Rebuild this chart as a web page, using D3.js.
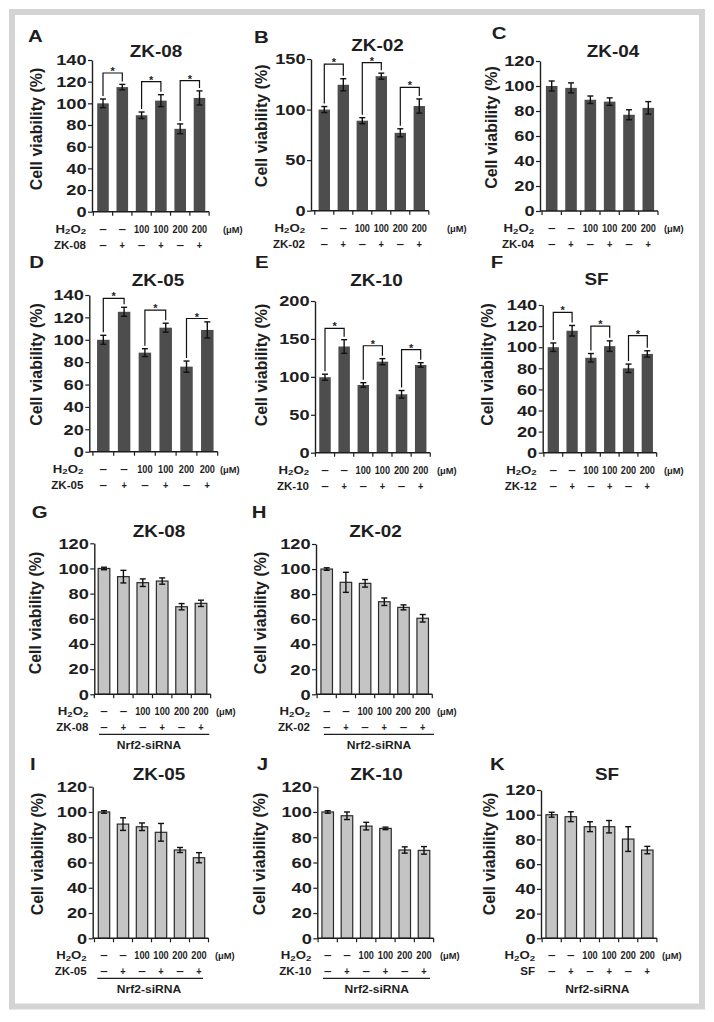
<!DOCTYPE html>
<html><head><meta charset="utf-8">
<script src="https://cdn.jsdelivr.net/npm/d3@7"></script>
<style>
body{margin:0;background:#fff}
svg{display:block}
text{font-family:"Liberation Sans",Arial,Helvetica,sans-serif;font-weight:bold;fill:#1e1e1e}
</style>
</head><body>
<svg id="c" width="714" height="1022"></svg>
<script>
// ---------- data ----------
const h2o2Labels = ["–","–","100","100","200","200"];
const drugSigns  = ["–","+","–","+","–","+"];
const panelLetters = ["A","B","C","D","E","F","G","H","I","J","K"];
const panelTitles  = ["ZK-08","ZK-02","ZK-04","ZK-05","ZK-10","SF","ZK-08","ZK-02","ZK-05","ZK-10","SF"];
const drugNames    = ["ZK-08","ZK-02","ZK-04","ZK-05","ZK-10","ZK-12","ZK-08","ZK-02","ZK-05","ZK-10","SF"];
const yMaxes = [140,150,120,140,200,140,120,120,120,120,120];
const ySteps = [20,50,20,20,50,20,20,20,20,20,20];

const meansA = [100,115,89,102.5,76.5,105];   const errA = [4,2.5,3,5.5,4.5,6.5];
const meansB = [100,124.5,89,133,77,103.5];   const errB = [3,6,3,3,4,7];
const meansC = [100,98.5,89,87.5,77,82.5];    const errC = [4,4,3,3,4,5];
const meansD = [100,125,88.5,110.8,76,108.8]; const errD = [4,4,3.5,4,5,7.2];
const meansE = [99.5,140,89.3,120,77,115.7];  const errE = [4,9,3,4,5,3];
const meansF = [100,115.6,90,101,80,93.6];    const errF = [4,5,4,5,4,3];
const meansG = [100,93.5,88.7,90,69.6,72.3];  const errG = [1,5,3,2.5,2.5,2.5];
const meansH = [100,89.4,88.6,73.9,69.4,60.7];const errH = [1,8,3,3,2,3];
const meansI = [100,90.4,88.3,83.9,69.9,63.8];const errI = [1,5,3,7,2,4];
const meansJ = [100,97,88.8,87,69.9,69.6];    const errJ = [1,3,3,1,2.5,3];
const meansK = [100,98.4,90.3,90.3,80.3,71.4];const errK = [2,4,4,5,10,3];

// significance brackets: [barFrom, barTo, bracketLevel]
const sigA = [[0,1,128],[2,3,120],[4,5,121]];
const sigB = [[0,1,145],[2,3,146.5],[4,5,122]];
const sigD = [[0,1,137],[2,3,126.5],[4,5,119]];
const sigE = [[0,1,164],[2,3,141],[4,5,136]];
const sigF = [[0,1,133],[2,3,120],[4,5,111]];

const allMeans = [meansA,meansB,meansC,meansD,meansE,meansF,meansG,meansH,meansI,meansJ,meansK];
const allErrs  = [errA,errB,errC,errD,errE,errF,errG,errH,errI,errJ,errK];
const allSigs  = [sigA,sigB,[],sigD,sigE,sigF,[],[],[],[],[]];
const siRNA    = [false,false,false,false,false,false,true,true,true,true,true];

// ---------- layout ----------
const layout = [
 {ax:92,   yT:60,    yB:211.7, c1:103,   c6:199.5, lx:28,    ly:41.7,  tx:156,   ty:57,    vx:41.6,  vy:129,   um:223},
 {ax:311,  yT:59,    yB:210.7, c1:324.3, c6:419.3, lx:254,   ly:42.7,  tx:377.5, ty:51,    vx:266.6, vy:125.8, um:447},
 {ax:540,  yT:61,    yB:211,   c1:551.7, c6:648.3, lx:491.7, ly:39.3,  tx:613,   ty:57.3,  vx:496.6, vy:127.5, um:664},
 {ax:89.3, yT:295,   yB:451.7, c1:103.3, c6:207.3, lx:29.3,  ly:268.3, tx:158,   ty:286,   vx:41.6,  vy:364.5, um:220},
 {ax:315,  yT:301,   yB:452.7, c1:325,   c6:420.7, lx:255,   ly:268,   tx:376.5, ty:286,   vx:266.6, vy:365,   um:437},
 {ax:542.7,yT:305,   yB:452.7, c1:553.3, c6:647.3, lx:490.7, ly:268,   tx:596.5, ty:285,   vx:492.6, vy:364.5, um:664},
 {ax:94.3, yT:543.3, yB:694.3, c1:104,   c6:201,   lx:31.7,  ly:518,   tx:159,   ty:536.7, vx:40.6,  vy:613,   um:216, sx0:99,   sx1:209.3, stx:149},
 {ax:316,  yT:544,   yB:694.3, c1:326.7, c6:422.7, lx:251.7, ly:518,   tx:375.5, ty:536.7, vx:265.6, vy:613,   um:437, sx0:324,  sx1:434,   stx:379},
 {ax:92.7, yT:786.7, yB:938.3, c1:104,   c6:199,   lx:30,    ly:770,   tx:159,   ty:780,   vx:42.6,  vy:854,   um:215, sx0:97.3, sx1:203,   stx:149},
 {ax:317.3,yT:786.7, yB:938.3, c1:327.7, c6:424,   lx:256.7, ly:770,   tx:376.5, ty:780,   vx:264.6, vy:854,   um:440, sx0:323,  sx1:430,   stx:376.7},
 {ax:541,  yT:790,   yB:938.3, c1:551.7, c6:647.3, lx:490,   ly:770,   tx:607,   ty:780,   vx:494.6, vy:854,   um:662, sx0:null, sx1:null,  stx:597.3}
];

const INK = "#1e1e1e";
const svg = d3.select("#c");

// frame
svg.append("rect").attr("x",12).attr("y",12).attr("width",690).attr("height",994.5)
  .attr("fill","#fff").attr("stroke","#d4d4d4").attr("stroke-width",6);

function st(g, x, y, s, size, anchor, sx){
  return g.append("text")
    .attr("transform", `translate(${x},${y}) scale(${sx},1)`)
    .attr("text-anchor", anchor).attr("font-size", size).text(s);
}

layout.forEach((L, p) => {
  const g = svg.append("g");
  const means = allMeans[p], errs = allErrs[p];
  const idx = d3.range(6);
  const stepW = (L.c6 - L.c1) / 5;
  const pi = 0.4;
  const x = d3.scaleBand().domain(idx)
    .range([L.c1 - stepW/2, L.c6 + stepW/2]).paddingInner(pi).paddingOuter(pi/2);
  const y = d3.scaleLinear().domain([0, yMaxes[p]]).range([L.yB, L.yT]);
  const cx = i => x(i) + x.bandwidth()/2;
  const light = siRNA[p];

  // letter & title
  st(g, L.lx, L.ly, panelLetters[p], 17, "start", 1.2);
  st(g, L.tx, L.ty, panelTitles[p], 16, "middle", 1.18);

  // y label
  g.append("text").attr("transform", `translate(${L.vx},${L.vy}) rotate(-90)`)
    .attr("text-anchor","middle").attr("font-size",16).text("Cell viability (%)");

  // bars
  g.selectAll("rect.bar").data(means).join("rect").attr("class","bar")
    .attr("x", (d,i) => x(i)).attr("width", x.bandwidth())
    .attr("y", d => y(d)).attr("height", d => L.yB - y(d))
    .attr("fill", light ? "#c4c4c4" : "#4d4d4d")
    .attr("stroke", light ? "#2a2a2a" : "none").attr("stroke-width", 1.2);

  // error bars
  const eg = g.append("g").attr("stroke", "#111").attr("stroke-width", 1.4);
  means.forEach((m,i) => {
    const e = errs[i], c = cx(i);
    eg.append("line").attr("x1",c).attr("x2",c).attr("y1",y(m+e)).attr("y2",y(m-e));
    eg.append("line").attr("x1",c-3).attr("x2",c+3).attr("y1",y(m+e)).attr("y2",y(m+e));
    eg.append("line").attr("x1",c-3).attr("x2",c+3).attr("y1",y(m-e)).attr("y2",y(m-e));
  });

  // y axis
  const yAxis = d3.axisLeft(y).tickValues(d3.range(0, yMaxes[p] + 1, ySteps[p]))
    .tickSize(4).tickSizeOuter(0).tickPadding(1.5);
  const ya = g.append("g").attr("transform", `translate(${L.ax},0)`).call(yAxis);
  ya.attr("font-size",14).attr("font-family",null).attr("color", INK);
  ya.select(".domain").attr("stroke-width",1.4);
  ya.selectAll(".tick line").attr("stroke-width",1.2);
  ya.selectAll(".tick text").attr("transform","scale(1.3,1)")
    .attr("x", -5.5/1.3).attr("dy","0.34em").attr("font-weight","bold");

  // x axis line + boundary ticks
  const xEnd = x(5) + x.bandwidth() + x.step()*pi/2;
  g.append("line").attr("x1", L.ax).attr("x2", xEnd).attr("y1", L.yB).attr("y2", L.yB)
    .attr("stroke", INK).attr("stroke-width", 1.4);
  const bounds = idx.map(i => x(i) - x.step()*pi/2).concat([xEnd]);
  g.selectAll("line.xt").data(bounds).join("line").attr("class","xt")
    .attr("x1", d => d).attr("x2", d => d).attr("y1", L.yB).attr("y2", L.yB + 4)
    .attr("stroke", INK).attr("stroke-width", 1.2);

  // significance brackets
  allSigs[p].forEach(([a,b,lvl]) => {
    const by = y(lvl);
    const la = Math.max(by, y(means[a]+errs[a]) - 3);
    const lb = Math.max(by, y(means[b]+errs[b]) - 3);
    g.append("path").attr("d", `M${cx(a)},${la}V${by}H${cx(b)}V${lb}`)
      .attr("fill","none").attr("stroke","#111").attr("stroke-width",1.2);
    st(g, (cx(a)+cx(b))/2, by + 2, "*", 11, "middle", 1);
  });

  // condition rows
  const r1 = L.yB + 21, r2 = L.yB + 37;
  const h = g.append("text").attr("transform", `translate(${L.ax-6},${r1}) scale(1.2,1)`)
    .attr("text-anchor","end").attr("font-size",11);
  h.append("tspan").text("H");
  h.append("tspan").attr("font-size",8).attr("dy",1.5).text("2");
  h.append("tspan").attr("dy",-1.5).text("O");
  h.append("tspan").attr("font-size",8).attr("dy",1.5).text("2");
  st(g, L.ax-6, r2, drugNames[p], 10.5, "end", 1.1);
  const sc = s => s === "–" ? 1.35 : 0.92;
  h2o2Labels.forEach((s,i) => st(g, cx(i), r1, s, 10, "middle", sc(s)));
  drugSigns.forEach((s,i) => st(g, cx(i), r2, s, 10, "middle", sc(s)));
  st(g, L.um, r1, "(μM)", 8.5, "start", 1.1);

  if (light) {
    if (L.sx0 !== null) {
      g.append("line").attr("x1", L.sx0).attr("x2", L.sx1).attr("y1", L.yB+40).attr("y2", L.yB+40)
        .attr("stroke", INK).attr("stroke-width", 1.2);
    }
    st(g, L.stx, L.yB + 55, "Nrf2-siRNA", 10.5, "middle", 1.15);
  }
});
</script>
</body></html>
